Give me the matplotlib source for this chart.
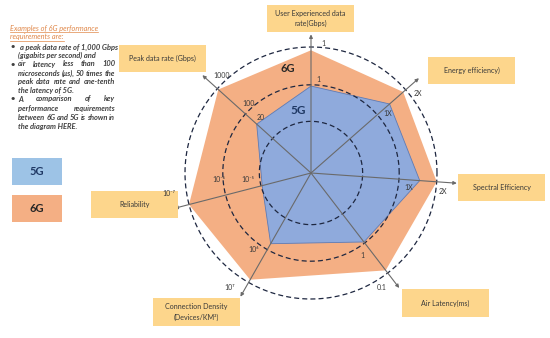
import matplotlib
matplotlib.use('Agg')
import matplotlib.pyplot as plt
import numpy as np
from matplotlib.patches import Rectangle

plt.rcParams['font.family'] = ['Lato', 'DejaVu Sans']

# ---------------- data ----------------
axis_names = ['User Experienced data\nrate(Gbps)', 'Energy efficiency)', 'Spectral Efficiency',
              'Air Latency(ms)', 'Connection Density\n(Devices/KM²)', 'Reliability',
              'Peak data rate (Gbps)']
axis_angles_deg = [90, 41.3, -4, -52.5, 240.3, 194.5, 138]
score_6g = [0.974, 0.974, 1.0, 0.974, 0.975, 1.0, 0.99]
score_5g = [0.69, 0.83, 0.865, 0.69, 0.646, 0.40, 0.58]
ring_levels = [0.41, 0.70, 1.0]
tick_6g = ['1', '2X', '2X', '0.1', '10⁷', '10⁻⁷', '1000']
tick_5g = ['1', '1X', '1X', '1', '10⁶', '10⁻⁵', '20']
tick_mid = ['100', '10⁻⁶']

# ---------------- layout ----------------
W, H = 550, 338
cx, cy, r_outer = 311, 173, 126
rmax = 1.2
arrow_len = [1.10, 1.14, 1.16, 1.15, 1.13, 1.12, 1.16]
box_rects = [(267, 5, 87, 27), (428, 57, 87, 27), (458, 174, 87, 27), (402, 289, 87, 28),
             (153, 298, 87, 28), (91, 191, 87, 27), (119, 45, 87, 27)]
tick6_pos = [(323, 43), (418, 93), (443, 191), (382, 288), (230, 287), (169, 194), (222, 75)]
tick5_pos = [(318, 79), (388, 114), (409, 187), (362, 255), (254, 249), (248, 180), (261, 117)]
tickmid_pos = [(249, 104), (219, 180)]

c6 = '#F4AF84'
c5 = '#8FAADC'
box_c = '#FDD68C'
txt_c = '#3A3A3A'

fig = plt.figure(figsize=(W / 100, H / 100), dpi=100)
fig.patch.set_facecolor('white')

# polar axes positioned so that the centre sits at (cx, cy)
rp = r_outer * rmax
axp = fig.add_axes([(cx - rp) / W, 1 - (cy + rp) / H, 2 * rp / W, 2 * rp / H], projection='polar')
axp.set_ylim(0, rmax)
axp.set_axis_off()
axp.zorder = 1

th = np.deg2rad(axis_angles_deg)
th_c = np.append(th, th[0])
axp.fill(th_c, np.append(score_6g, score_6g[0]), color=c6, lw=0, zorder=1)
axp.fill(th_c, np.append(score_5g, score_5g[0]), facecolor=c5, edgecolor='#5E7BB5', lw=0.6, zorder=2)

circ = np.linspace(0, 2 * np.pi, 361)
for r in ring_levels:
    axp.plot(circ, np.full_like(circ, r), color='#1E2740', lw=0.9, ls=(0, (4, 2.5)), zorder=3)

for t, L in zip(th, arrow_len):
    axp.annotate('', xy=(t, L), xytext=(t, 0),
                 arrowprops=dict(arrowstyle='-|>', color='#6A6A6A', lw=0.8,
                                 mutation_scale=5, shrinkA=0, shrinkB=0), zorder=4)

# overlay in pixel coordinates
ax = fig.add_axes([0, 0, 1, 1])
ax.set_xlim(0, W)
ax.set_ylim(H, 0)
ax.set_axis_off()
ax.patch.set_alpha(0)
ax.zorder = 2

for (x, y, w, h), name in zip(box_rects, axis_names):
    ax.add_patch(Rectangle((x, y), w, h, facecolor=box_c, edgecolor='none'))
    ax.text(x + w / 2, y + h / 2, name, ha='center', va='center', fontsize=5.1,
            color=txt_c, linespacing=1.5)

for (x, y), s in zip(tick6_pos, tick_6g):
    ax.text(x, y, s, ha='center', va='center', fontsize=5, color=txt_c)
for (x, y), s in zip(tick5_pos, tick_5g):
    ax.text(x, y, s, ha='center', va='center', fontsize=5, color=txt_c)
for (x, y), s in zip(tickmid_pos, tick_mid):
    ax.text(x, y, s, ha='center', va='center', fontsize=5, color=txt_c)

ax.text(288, 68, '6G', ha='center', va='center', fontsize=8, fontweight='bold', color='#262626')
ax.text(298, 111, '5G', ha='center', va='center', fontsize=8.5, fontweight='bold', color='#1F3864')

# legend boxes
ax.add_patch(Rectangle((12, 158), 50, 27, facecolor='#9DC3E6', edgecolor='none'))
ax.text(37, 171.5, '5G', ha='center', va='center', fontsize=8, fontweight='bold', color='#1F3864')
ax.add_patch(Rectangle((12, 195), 50, 27, facecolor=c6, edgecolor='none'))
ax.text(37, 208.5, '6G', ha='center', va='center', fontsize=8, fontweight='bold', color='#262626')

# text block
renderer = fig.canvas.get_renderer()
heading = ['Examples of 6G performance', 'requirements are:']
for i, s in enumerate(heading):
    y = 28 + 9 * i
    t = ax.text(10, y, s, ha='left', va='center', fontsize=5.3, style='italic', color='#E0884A')
    bb = t.get_window_extent(renderer)
    ax.plot([10, 10 + bb.width], [y + 3.8, y + 3.8], color='#E0884A', lw=0.5)

lines = [
    ('a peak data rate of 1,000 Gbps', True, False, 20),
    ('(gigabits per second) and', False, False, 18),
    ('air latency less than 100', True, True, 18),
    ('microseconds (μs), 50 times the', False, True, 18),
    ('peak data rate and one-tenth', False, True, 18),
    ('the latency of 5G.', False, False, 18),
    ('A comparison of key', True, True, 18),
    ('performance requirements', False, True, 18),
    ('between 6G and 5G is shown in', False, True, 18),
    ('the diagram HERE.', False, False, 18),
]
line_y = [47, 55.5, 64, 73, 81.5, 90, 99, 108, 117, 126]
right_edge = 115
fs = 5.4
for (s, bullet, justify, x0), y in zip(lines, line_y):
    kw = dict(va='center', fontsize=fs, style='italic', fontweight='bold', color='#404040')
    if bullet:
        ax.text(10, y, '•', ha='left', **kw)
    if not justify:
        ax.text(x0, y, s, ha='left', **kw)
        continue
    words = s.split(' ')
    objs = [ax.text(0, y, w_, ha='left', **kw) for w_ in words]
    widths = [o.get_window_extent(renderer).width for o in objs]
    gap = max((right_edge - x0 - sum(widths)) / (len(words) - 1), 1.2)
    x = x0
    for o, w_ in zip(objs, widths):
        o.set_x(x)
        x += w_ + gap

fig.savefig('out.png', dpi=100)
